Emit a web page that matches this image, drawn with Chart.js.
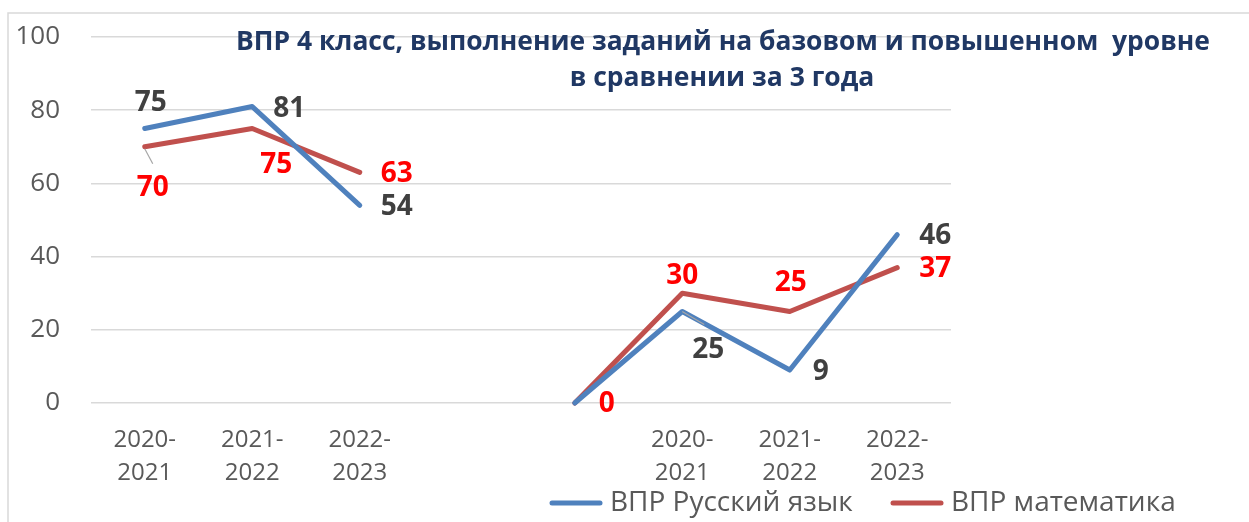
<!DOCTYPE html>
<html>
<head>
<meta charset="utf-8">
<script src="https://cdn.jsdelivr.net/npm/chart.js@4/dist/chart.umd.min.js"></script>
<style>
  html, body { margin: 0; padding: 0; background: #fff; }
  #wrap { width: 1249px; height: 522px; position: relative; }
</style>
</head>
<body>
<div id="wrap"><canvas id="chart" width="1249" height="522"></canvas></div>
<script>
// categories: two groups of school years, with an empty gap and an unlabeled start point
const categories = [
    ['2020-', '2021'], ['2021-', '2022'], ['2022-', '2023'],
    '', '',
    ['2020-', '2021'], ['2021-', '2022'], ['2022-', '2023']
];
const russianValues = [75, 81, 54, null, 0, 25, 9, 46];
const mathValues = [70, 75, 63, null, 0, 30, 25, 37];
const yTicks = [0, 20, 40, 60, 80, 100];
const seriesNames = ['ВПР Русский язык', 'ВПР математика'];
const titleLines = ['ВПР 4 класс, выполнение заданий на базовом и повышенном  уровне', 'в сравнении за 3 года'];

const blue = '#4f81bd';
const red = '#c0504d';
const gridColor = '#d9d9d9';
const textGray = '#595959';

// where each value label sits relative to its point: [dx, dy, align]; null = no label
const russianLabelPos = [[6, -25, 'center'], [21, 2, 'left'], [21, 2, 'left'], null, null, [26, 39, 'center'], [23, 2, 'left'], [22, 1, 'left']];
const mathLabelPos = [[8, 41, 'center'], [24, 37, 'center'], [21, 2, 'left'], null, [24, 1, 'left'], [0, -17, 'center'], [1, -28, 'center'], [22, 1, 'left']];

const valueLabels = {
    id: 'valueLabels',
    afterDatasetsDraw(chart) {
        const ctx = chart.ctx;
        const specs = [
            { pos: russianLabelPos, color: '#404040' },
            { pos: mathLabelPos, color: '#ff0000' }
        ];
        ctx.save();
        ctx.font = 'bold 28px "Open Sans"';
        ctx.textBaseline = 'middle';
        chart.data.datasets.forEach((ds, di) => {
            const meta = chart.getDatasetMeta(di);
            ds.data.forEach((v, i) => {
                const p = specs[di].pos[i];
                if (v === null || !p) return;
                const pt = meta.data[i];
                ctx.fillStyle = specs[di].color;
                ctx.textAlign = p[2];
                ctx.fillText(String(v), pt.x + p[0], pt.y + p[1]);
            });
        });
        // leader lines for labels pushed away from their points
        ctx.strokeStyle = '#a6a6a6';
        ctx.lineWidth = 1.2;
        const m0 = chart.getDatasetMeta(1).data[0];
        ctx.beginPath(); ctx.moveTo(m0.x, m0.y + 2); ctx.lineTo(m0.x + 8, m0.y + 17); ctx.stroke();
        const r5 = chart.getDatasetMeta(0).data[5];
        ctx.beginPath(); ctx.moveTo(r5.x, r5.y); ctx.lineTo(r5.x + 22, r5.y + 13); ctx.stroke();
        ctx.restore();
    }
};

const decorations = {
    id: 'decorations',
    beforeDraw(chart) {
        const ctx = chart.ctx;
        ctx.save();
        ctx.fillStyle = '#fff';
        ctx.fillRect(0, 0, chart.width, chart.height);
        ctx.strokeStyle = gridColor;
        ctx.lineWidth = 1.5;
        ctx.beginPath();
        ctx.moveTo(8, chart.height + 2);
        ctx.lineTo(8, 13);
        ctx.lineTo(chart.width + 2, 13);
        ctx.stroke();
        ctx.restore();
    },
    afterDraw(chart) {
        const ctx = chart.ctx;
        ctx.save();
        // title sits inside the plot area
        ctx.fillStyle = '#203864';
        ctx.font = 'bold 26.5px "Open Sans"';
        ctx.textAlign = 'center';
        ctx.textBaseline = 'middle';
        ctx.fillText(titleLines[0], 723, 42, 974);
        ctx.fillText(titleLines[1], 722, 78);
        // legend
        const items = [
            { x: 552, color: blue, name: seriesNames[0] },
            { x: 893, color: red, name: seriesNames[1] }
        ];
        ctx.font = '28px "Open Sans"';
        ctx.textAlign = 'left';
        ctx.lineCap = 'round';
        items.forEach(it => {
            ctx.strokeStyle = it.color;
            ctx.lineWidth = 5;
            ctx.beginPath();
            ctx.moveTo(it.x, 503);
            ctx.lineTo(it.x + 48, 503);
            ctx.stroke();
            ctx.fillStyle = textGray;
            ctx.fillText(it.name, it.x + 58, 503);
        });
        ctx.restore();
    }
};

new Chart(document.getElementById('chart').getContext('2d'), {
    type: 'line',
    data: {
        labels: categories,
        datasets: [{
            label: seriesNames[0],
            data: russianValues,
            borderColor: blue,
            backgroundColor: blue,
            borderWidth: 5,
            borderCapStyle: 'round',
            borderJoinStyle: 'round',
            pointRadius: 0,
            spanGaps: false,
            clip: false,
            tension: 0
        }, {
            label: seriesNames[1],
            data: mathValues,
            borderColor: red,
            backgroundColor: red,
            borderWidth: 5,
            borderCapStyle: 'round',
            borderJoinStyle: 'round',
            pointRadius: 0,
            spanGaps: false,
            clip: false,
            tension: 0
        }]
    },
    options: {
        responsive: false,
        animation: false,
        layout: { padding: { left: 0, top: 37, right: 298, bottom: 0 } },
        plugins: {
            legend: { display: false },
            title: { display: false },
            tooltip: { enabled: false }
        },
        scales: {
            x: {
                offset: true,
                grid: { display: false, drawTicks: false },
                border: { display: false },
                ticks: {
                    color: textGray,
                    font: { family: 'Open Sans', size: 24, lineHeight: 1.4 },
                    padding: 20,
                    maxRotation: 0,
                    autoSkip: false
                },
                afterFit(scale) { scale.height = 119; }
            },
            y: {
                min: 0,
                max: 100,
                afterBuildTicks(scale) { scale.ticks = yTicks.map(v => ({ value: v })); },
                grid: { color: gridColor, lineWidth: 1.5, drawTicks: false },
                border: { display: false },
                ticks: {
                    color: textGray,
                    font: { family: 'Open Sans', size: 26 },
                    padding: 31
                },
                afterFit(scale) {
                    scale.width = 91;
                    scale.paddingTop = 0;
                    scale.paddingBottom = 0;
                }
            }
        }
    },
    plugins: [decorations, valueLabels]
});
</script>
</body>
</html>
